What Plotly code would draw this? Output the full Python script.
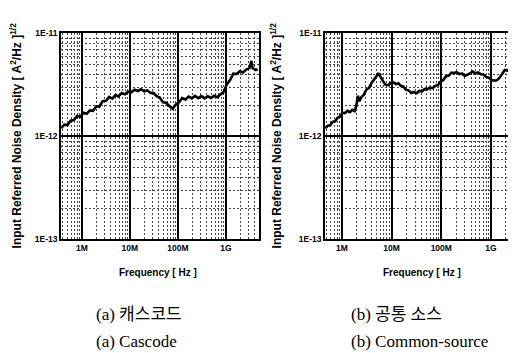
import plotly.graph_objects as go

# (a) Cascode: frequency in MHz, density in units of 1e-12 A/sqrt(Hz)
freq_a_mhz = [0.37, 0.43, 0.50, 0.58, 0.68, 0.80, 0.93, 1.08, 1.26, 1.47, 1.71, 2.0, 2.3, 2.7,
              3.2, 3.7, 4.3, 5.0, 5.8, 6.8, 7.9, 9.2, 10.7, 12.5, 14.6, 17, 20, 23, 27, 31, 36,
              42, 49, 57, 67, 78, 91, 106, 123, 144, 168, 195, 228, 265, 310, 360, 420, 490,
              570, 665, 775, 900, 1050, 1230, 1430, 1670, 1950, 2270, 2650, 3090, 3400, 3600,
              4200, 4600]
dens_a = [1.20, 1.30, 1.29, 1.42, 1.44, 1.58, 1.55, 1.70, 1.66, 1.79, 1.77, 1.96, 1.94, 2.20,
          2.22, 2.42, 2.33, 2.52, 2.44, 2.64, 2.56, 2.72, 2.68, 2.84, 2.76, 2.87, 2.74, 2.80,
          2.64, 2.65, 2.46, 2.38, 2.14, 2.12, 1.96, 1.86, 2.04, 2.14, 2.35, 2.28, 2.44, 2.34,
          2.47, 2.35, 2.46, 2.34, 2.45, 2.36, 2.48, 2.40, 2.56, 2.70, 3.22, 3.55, 4.06, 4.04,
          4.30, 4.18, 4.46, 4.60, 5.40, 4.60, 4.40, 4.50]

# (b) Common-source
freq_b_mhz = [0.46, 0.52, 0.58, 0.65, 0.73, 0.82, 0.92, 1.03, 1.15, 1.29, 1.45, 1.62, 1.80, 1.95,
              2.1, 2.25, 2.45, 2.75, 3.1, 3.5, 3.95, 4.45, 5.0, 5.4, 6.0, 6.7, 7.5, 8.5, 9.6,
              10.8, 12.2, 13.7, 15.4, 17.3, 19.5, 22, 25, 28, 32, 36, 41, 46, 52, 59, 67, 76,
              86, 97, 110, 125, 142, 160, 180, 205, 232, 262, 297, 336, 380, 430, 487, 550, 623,
              705, 798, 903, 1020, 1160, 1310, 1480, 1680, 1900, 2150, 2430, 2750, 3090, 3450,
              3890]
dens_b = [1.20, 1.27, 1.28, 1.38, 1.40, 1.52, 1.56, 1.70, 1.68, 1.77, 1.72, 1.81, 1.76, 1.98,
          2.48, 2.20, 2.40, 2.52, 2.84, 2.95, 3.30, 3.55, 3.85, 4.12, 3.72, 3.46, 3.18, 3.14,
          3.30, 3.36, 3.22, 3.28, 3.10, 3.04, 2.84, 2.80, 2.64, 2.70, 2.62, 2.76, 2.74, 2.88,
          2.86, 2.98, 2.94, 3.10, 3.16, 3.40, 3.52, 3.84, 3.90, 4.16, 4.12, 4.20, 4.02, 4.08,
          3.86, 3.96, 4.10, 4.26, 4.10, 4.18, 4.02, 4.00, 3.78, 3.72, 3.52, 3.48, 3.50, 3.70,
          4.10, 4.42, 4.36, 4.62, 4.70, 5.50, 4.50, 4.40]

x_tick_vals = [1e6, 1e7, 1e8, 1e9]
x_tick_text = ["1M", "10M", "100M", "1G"]
y_tick_vals = [1e-13, 1e-12, 1e-11]
y_tick_text = ["1E-13", "1E-12", "1E-11"]

W, H = 516, 353
tick_font = dict(family="Liberation Sans, Arial", size=8.5, color="black")

fig = go.Figure()
fig.add_trace(go.Scatter(x=[f * 1e6 for f in freq_a_mhz], y=[v * 1e-12 for v in dens_a],
                         mode="lines", line=dict(color="black", width=2.6), xaxis="x", yaxis="y"))
fig.add_trace(go.Scatter(x=[f * 1e6 for f in freq_b_mhz], y=[v * 1e-12 for v in dens_b],
                         mode="lines", line=dict(color="black", width=2.6), xaxis="x2", yaxis="y2"))

minor_grid = dict(dtick="D1", showgrid=True, gridcolor="#444", griddash="2px,2px", gridwidth=1)

def xax(dom, rng, anchor):
    return dict(type="log", domain=dom, range=rng, anchor=anchor,
                tickvals=x_tick_vals, ticktext=["<b>%s</b>" % t for t in x_tick_text],
                tickfont=tick_font,
                showgrid=True, gridcolor="black", gridwidth=1.5, minor=minor_grid,
                showline=True, linecolor="black", linewidth=1.5, mirror=True,
                ticks="", zeroline=False)

def yax(dom, anchor):
    return dict(type="log", domain=dom, range=[-13, -11], anchor=anchor,
                tickvals=y_tick_vals, ticktext=["<b>%s</b>" % t for t in y_tick_text],
                tickfont=tick_font,
                showgrid=True, gridcolor="black", gridwidth=1.5, minor=minor_grid,
                showline=True, linecolor="black", linewidth=1.5, mirror=True,
                ticks="", zeroline=False)

ydom = [(H - 233) / H, (H - 21) / H]
fig.update_layout(
    width=W, height=H, margin=dict(l=0, r=0, t=0, b=0),
    paper_bgcolor="white", plot_bgcolor="white", showlegend=False,
    xaxis=xax([53 / W, 251 / W], [5.565, 9.69], "y"),
    yaxis=yax(ydom, "x"),
    xaxis2=xax([317 / W, 512 / W], [5.66, 9.585], "y2"),
    yaxis2=yax(ydom, "x2"),
)

ytitle = "<b>Input Referred Noise Density [ A<sup>2</sup>/Hz ]<sup>1/2</sup></b>"
xtitle = "<b>Frequency [ Hz ]</b>"
ann_font = dict(family="Liberation Sans", size=12, color="black")
xt_font = dict(family="Liberation Sans", size=10, color="black")
cap_font = dict(family="Liberation Serif, Noto Sans CJK KR", size=17, color="black")
anns = [
    dict(x=8 / W, y=1 - 126 / H, text=ytitle, textangle=-90, font=ann_font),
    dict(x=268 / W, y=1 - 126 / H, text=ytitle, textangle=-90, font=ann_font),
    dict(x=150 / W, y=1 - 267 / H, text=xtitle, font=xt_font),
    dict(x=414 / W, y=1 - 267 / H, text=xtitle, font=xt_font),
    dict(x=86 / W, y=1 - 310 / H, text="(a) 캐스코드", xanchor="left", font=cap_font),
    dict(x=86 / W, y=1 - 338 / H, text="(a) Cascode", xanchor="left", font=cap_font),
    dict(x=341 / W, y=1 - 310 / H, text="(b) 공통 소스", xanchor="left", font=cap_font),
    dict(x=341 / W, y=1 - 338 / H, text="(b) Common-source", xanchor="left", font=cap_font),
]
for a in anns:
    a.setdefault("xanchor", "center")
    a.update(xref="paper", yref="paper", showarrow=False, yanchor="middle")
fig.update_layout(annotations=anns)

fig.write_html("out.html")
